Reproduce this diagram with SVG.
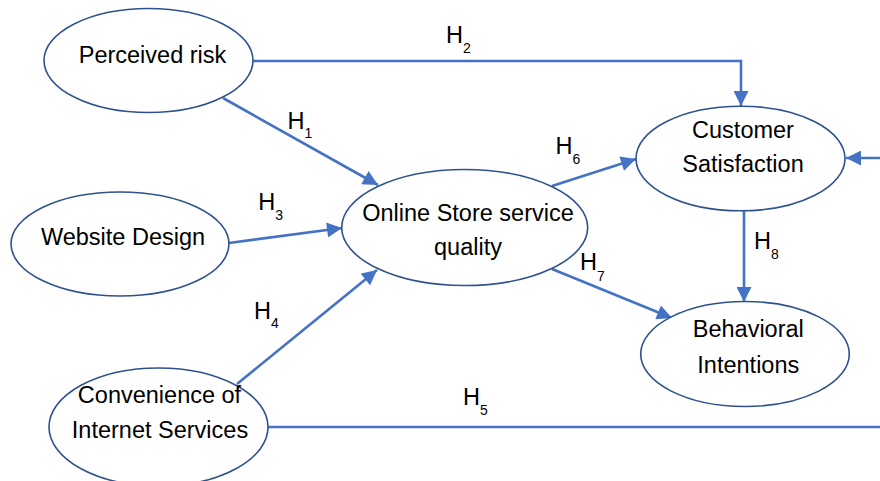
<svg xmlns="http://www.w3.org/2000/svg" width="880" height="481" viewBox="0 0 880 481">
<style>
.node ellipse{fill:#ffffff;stroke:#2F528F;stroke-width:1.6}
.t{font-family:"Liberation Sans",Arial,sans-serif;font-size:23.5px;fill:#000;text-anchor:middle}
.h{font-family:"Liberation Sans",Arial,sans-serif;font-size:23.5px;fill:#000}
.s{font-size:14px}
#connectors line,#connectors polyline{stroke:#4472C4;stroke-width:2.6;fill:none}
.arr{marker-end:url(#ah)}
</style>
<defs>
<marker id="ah" viewBox="0 0 10 10" refX="10" refY="5" markerWidth="16" markerHeight="15" markerUnits="userSpaceOnUse" orient="auto">
<path d="M0,0 L10,5 L0,10 z" fill="#4472C4"/>
</marker>
</defs>
<rect width="880" height="481" fill="#ffffff"/>
<g id="connectors">
<line class="arr" x1="223" y1="98" x2="378" y2="185"/>
<polyline class="arr" points="253,61 741,61 741,106"/>
<line class="arr" x1="229" y1="243" x2="342" y2="228"/>
<line class="arr" x1="237" y1="384" x2="377" y2="270"/>
<line x1="268" y1="427" x2="880" y2="427"/>
<line class="arr" x1="552" y1="186" x2="636" y2="159"/>
<line class="arr" x1="552" y1="269" x2="672" y2="318"/>
<line class="arr" x1="744" y1="210" x2="744" y2="302"/>
<line class="arr" x1="880" y1="158" x2="846" y2="158"/>
</g>
<g id="labels">
<text class="h" x="287.5" y="128.5">H<tspan class="s" dy="9">1</tspan></text>
<text class="h" x="446" y="42.5">H<tspan class="s" dy="10">2</tspan></text>
<text class="h" x="258.3" y="210">H<tspan class="s" dy="10">3</tspan></text>
<text class="h" x="254" y="319">H<tspan class="s" dy="9">4</tspan></text>
<text class="h" x="463" y="405">H<tspan class="s" dy="10">5</tspan></text>
<text class="h" x="555.5" y="153.5">H<tspan class="s" dy="10.5">6</tspan></text>
<text class="h" x="580" y="270">H<tspan class="s" dy="11">7</tspan></text>
<text class="h" x="754" y="248.5">H<tspan class="s" dy="10">8</tspan></text>
</g>
<g id="perceived-risk" class="node">
<ellipse cx="148.5" cy="60.5" rx="104.5" ry="52"/>
<text class="t" x="152.5" y="63">Perceived risk</text>
</g>
<g id="website-design" class="node">
<ellipse cx="120" cy="244" rx="109" ry="52"/>
<text class="t" x="123" y="245">Website Design</text>
</g>
<g id="convenience" class="node">
<ellipse cx="158.5" cy="427" rx="109.5" ry="59"/>
<text class="t" x="159.5" y="403">Convenience of</text>
<text class="t" x="160" y="438">Internet Services</text>
</g>
<g id="online-store" class="node">
<ellipse cx="464.7" cy="227.5" rx="123" ry="58"/>
<text class="t" x="468" y="221">Online Store service</text>
<text class="t" x="468" y="255">quality</text>
</g>
<g id="customer-satisfaction" class="node">
<ellipse cx="740.5" cy="158.5" rx="104.5" ry="52.3"/>
<text class="t" x="743" y="137.5">Customer</text>
<text class="t" x="743" y="172.3">Satisfaction</text>
</g>
<g id="behavioral-intentions" class="node">
<ellipse cx="745" cy="354" rx="104.3" ry="52.5"/>
<text class="t" x="748.3" y="337">Behavioral</text>
<text class="t" x="748.3" y="372.7">Intentions</text>
</g>
</svg>
